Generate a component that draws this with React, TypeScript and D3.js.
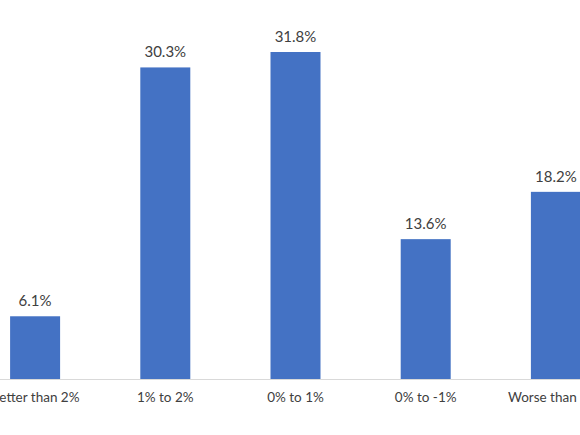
import * as d3 from 'd3';

const categories = ['Better than 2%', '1% to 2%', '0% to 1%', '0% to -1%', 'Worse than -2%'];
const values = [6.1, 30.3, 31.8, 13.6, 18.2];

const WIDTH = 580;
const HEIGHT = 435;
const BASELINE = 379;

const App = () => {
  // the plot runs wider than the window, so the outer labels get clipped like in the source
  const xScale = d3
    .scaleBand()
    .domain(categories)
    .range([-30, 621])
    .paddingInner(0.616)
    .paddingOuter(0.308);

  const yScale = d3.scaleLinear().domain([0, 31.8]).range([BASELINE, 52]);

  const bars = categories.map((c, i) => {
    const x = xScale(c);
    if (x === undefined) return null;
    const cx = x + xScale.bandwidth() / 2;
    return (
      <g key={c}>
        <rect
          x={x}
          y={yScale(values[i])}
          width={xScale.bandwidth()}
          height={BASELINE - yScale(values[i])}
          fill="#4472C4"
        />
        <text
          x={cx}
          y={yScale(values[i]) - 10}
          textAnchor="middle"
          fontSize={15}
          fill="#404040"
        >
          {values[i].toFixed(1) + '%'}
        </text>
        <text x={cx} y={402} textAnchor="middle" fontSize={13.5} fill="#404040">
          {c}
        </text>
      </g>
    );
  });

  return (
    <svg
      width={WIDTH}
      height={HEIGHT}
      style={{ position: 'absolute', left: 0, top: 0, fontFamily: 'Lato, sans-serif' }}
    >
      <rect width={WIDTH} height={HEIGHT} fill="#ffffff" />
      <line x1={0} x2={WIDTH} y1={BASELINE + 0.5} y2={BASELINE + 0.5} stroke="#d9d9d9" strokeWidth={1} />
      {bars}
    </svg>
  );
};

export default App;
